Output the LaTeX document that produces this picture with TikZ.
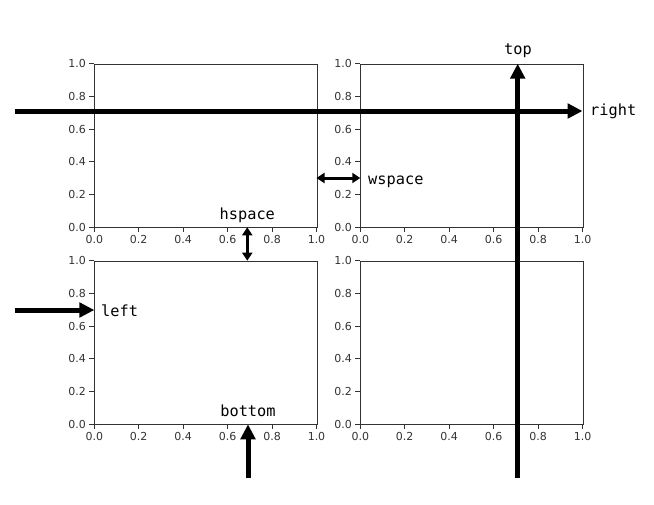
\documentclass[tikz,border=0pt]{standalone}
\usepackage{fontspec}
\setmainfont{DejaVu Sans}
\newfontfamily\monofam{DejaVu Sans Mono}
\usetikzlibrary{arrows.meta}
\tikzset{
  axframe/.style={draw=black!80, line width=1pt},
  tickmark/.style={draw=black!80, line width=0.9pt},
  ticklbl/.style={font=\fontsize{11}{13}\selectfont, text=black!80, inner sep=0pt},
  biglbl/.style={font=\monofam\fontsize{15.3}{18}\selectfont, inner sep=0pt},
  bigarrow/.style={line width=5pt, -{Triangle[length=15pt,width=14.5pt]}},
  dblarrow/.style={line width=3pt, {Triangle[length=8pt,width=10pt]}-{Triangle[length=8pt,width=10pt]}},
}
\begin{document}
\begin{tikzpicture}[x=1pt,y=-1pt]
\useasboundingbox (0,0) rectangle (654,504);
% axes: name, left, top
\foreach \nm/\L/\T in {tl/94.3/63.7, tr/360.3/63.7, bl/94.3/260.7, br/360.3/260.7}{
  \pgfmathsetmacro{\B}{\T+163.6}
  \node[axframe, minimum width=222.2pt, minimum height=163.6pt, inner sep=0pt, anchor=north west] (\nm) at (\L,\T) {};
  \foreach \k/\v in {0/0.0,1/0.2,2/0.4,3/0.6,4/0.8,5/1.0}{
    \pgfmathsetmacro{\xx}{\L+\k*222.2/5}
    \pgfmathsetmacro{\yy}{\B-\k*163.6/5}
    \draw[tickmark] (\xx,\B) -- (\xx,\B+4.9);
    \node[ticklbl, anchor=north] (\nm-x\k) at (\xx,\B+8.2) {\v};
    \draw[tickmark] (\L,\yy) -- (\L-4.9,\yy);
    \node[ticklbl, anchor=east] (\nm-y\k) at (\L-8.2,\yy) {\v};
  }
}
% coordinates
\coordinate (rs) at (15,111);
\coordinate (re) at (582.5,111);
\coordinate (ts) at (517.7,478);
\coordinate (te) at (517.7,63.7);
\coordinate (ls) at (15,310);
\coordinate (le) at (94.3,310);
\coordinate (bs) at (248,478);
\coordinate (be) at (248,424.3);
\coordinate (ws) at (316.5,178);
\coordinate (we) at (360.3,178);
\coordinate (hs) at (247.3,227.3);
\coordinate (he) at (247.3,260.7);
% arrows
\draw[bigarrow] (rs) -- (re);
\draw[bigarrow] (ts) -- (te);
\draw[bigarrow] (ls) -- (le);
\draw[bigarrow] (bs) -- (be);
\draw[dblarrow] (ws) -- (we);
\draw[dblarrow] (hs) -- (he);
% labels
\node[biglbl, anchor=base west] (rightlbl) at (590,115.5) {right};
\node[biglbl, anchor=base] (toplbl) at (518,54) {top};
\node[biglbl, anchor=base west] (leftlbl) at (101,316) {left};
\node[biglbl, anchor=base] (bottomlbl) at (248,416) {bottom};
\node[biglbl, anchor=base west] (wspacelbl) at (368,184) {wspace};
\node[biglbl, anchor=base] (hspacelbl) at (247.3,219.5) {hspace};
\end{tikzpicture}
\end{document}
